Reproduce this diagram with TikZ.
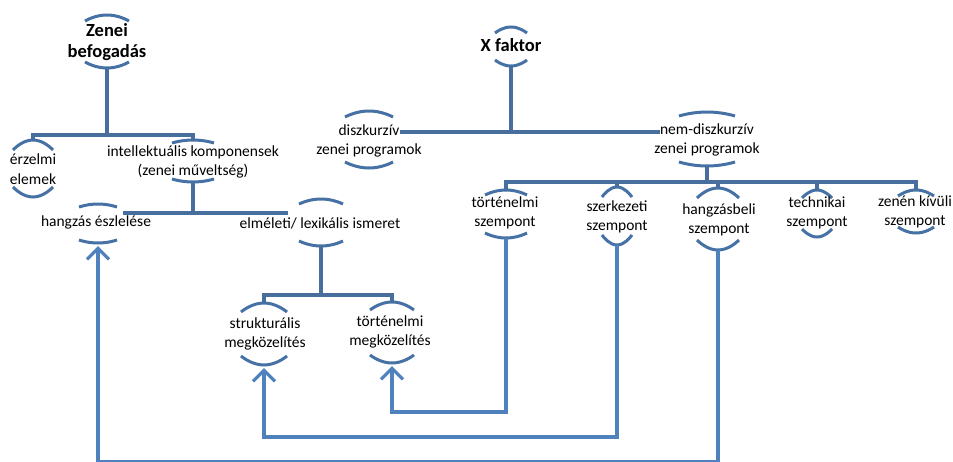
\documentclass[tikz,border=0pt]{standalone}
\usepackage{fontspec}
\setmainfont{Carlito}
\usetikzlibrary{arrows.meta}
\definecolor{treec}{RGB}{72,110,158}
\definecolor{arcc}{RGB}{70,113,165}
\definecolor{arrc}{RGB}{79,129,189}
\newcommand\arcpair[6]{%
  \coordinate (#1-t) at (#2,-#3);
  \coordinate (#1-b) at (#2,-#4);
  \draw[arcline] (#2-#5,-#3-#6) parabola bend (#1-t) (#2+#5,-#3-#6);
  \draw[arcline] (#2-#5,-#4+#6) parabola bend (#1-b) (#2+#5,-#4+#6);
}
\tikzset{
  arcline/.style={draw=arcc, line width=3pt},
  tree/.style={draw=treec, line width=3.2pt},
  arr/.style={draw=arrc, line width=3.2pt, -{Straight Barb[length=11pt,width=22pt,line width=3.2pt]}, shorten >=3pt},
  lbl/.style={font=\fontsize{15.5}{19.5}\selectfont, align=center, inner sep=0pt, text=black},
  blbl/.style={font=\fontsize{18.5}{20.5}\selectfont\bfseries, align=center, inner sep=0pt, text=black}
}
\begin{document}
\begin{tikzpicture}[x=1pt,y=1pt]
\useasboundingbox (0,0) rectangle (953,-461);
\fill[white] (0,0) rectangle (953,-461);
% arcs (name, cx, top, bottom, half-width, drop)
\arcpair{zb}{107}{15}{68}{22}{6}
\arcpair{xf}{511}{27}{66}{16}{6}
\arcpair{er}{33}{140}{197}{20}{10}
\arcpair{ik}{193}{140}{182}{21}{3}
\arcpair{hz}{98}{204}{243}{19}{3}
\arcpair{el}{321}{199}{246}{22}{5}
\arcpair{sm}{264}{303}{365}{23}{9}
\arcpair{tm}{392}{302}{363}{22}{8}
\arcpair{dz}{369}{111}{168}{24}{6}
\arcpair{nd}{707}{112}{166}{28}{4}
\arcpair{ts}{506}{190}{238}{21}{5}
\arcpair{sz}{617}{187}{245}{15}{10}
\arcpair{hb}{718}{188}{250}{21}{10}
\arcpair{te}{817}{190}{237}{15}{8}
\arcpair{zk}{916}{190}{233}{18}{6}
% side attach points
\coordinate (hz-e) at (123,-213);
\coordinate (el-w) at (288,-213);
\coordinate (dz-e) at (400,-132);
\coordinate (nd-w) at (660,-132);
% bus points
\coordinate (b1) at (107,-135);
\coordinate (b3) at (707,-182);
\coordinate (b4) at (321,-295);
% tree connectors
\draw[tree] (zb-b) -- (b1);
\draw[tree] (er-t) |- (b1) -| (ik-t);
\draw[tree] (ik-b) -- (ik-b |- hz-e);
\draw[tree] (hz-e) -- (el-w);
\draw[tree] (xf-b) -- (xf-b |- dz-e);
\draw[tree] (dz-e) -- (nd-w);
\draw[tree] (nd-b) -- (b3);
\draw[tree] (ts-t) |- (b3) -| (zk-t);
\draw[tree] (sz-t) -- (sz-t |- b3);
\draw[tree] (hb-t) -- (hb-t |- b3);
\draw[tree] (te-t) -- (te-t |- b3);
\draw[tree] (el-b) -- (b4);
\draw[tree] (sm-t) |- (b4) -| (tm-t);
% arrows
\draw[arr] (ts-b) |- (tm-b |- 0,-412) -- (tm-b);
\draw[arr] (sz-b) |- (sm-b |- 0,-437) -- (sm-b);
\draw[arr] (hb-b) |- (hz-b |- 0,-462) -- (hz-b);
% labels
\node[blbl] (zb) at (107,-42) {Zenei\\befogadás};
\node[blbl] (xf) at (511,-45) {X faktor};
\node[lbl] (er) at (33,-169) {érzelmi\\elemek};
\node[lbl] (ik) at (193,-162) {intellektuális komponensek\\(zenei műveltség)};
\node[lbl] (hz) at (96,-222) {hangzás észlelése};
\node[lbl] (el) at (320,-223) {elméleti/ lexikális ismeret};
\node[lbl] (sm) at (265,-334) {strukturális\\megközelítés};
\node[lbl] (tm) at (390,-332) {történelmi\\megközelítés};
\node[lbl] (dz) at (369,-141) {diszkurzív\\zenei programok};
\node[lbl] (nd) at (707,-140) {nem-diszkurzív\\zenei programok};
\node[lbl] (ts) at (505,-213) {történelmi\\szempont};
\node[lbl] (sz) at (617,-217) {szerkezeti\\szempont};
\node[lbl] (hb) at (719,-220) {hangzásbeli\\szempont};
\node[lbl] (te) at (817,-213) {technikai\\szempont};
\node[lbl] (zk) at (915,-212) {zenén kívüli\\szempont};
\end{tikzpicture}
\end{document}
